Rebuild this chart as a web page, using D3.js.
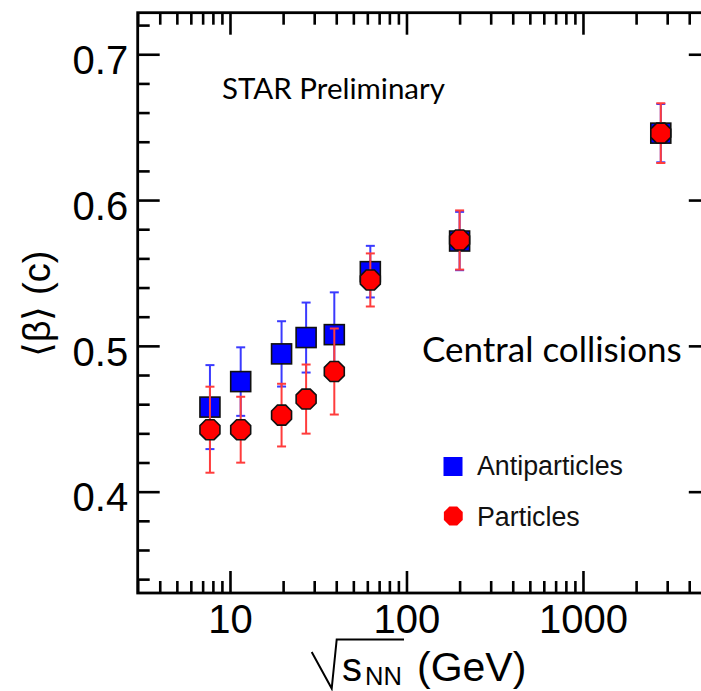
<!DOCTYPE html>
<html><head><meta charset="utf-8">
<script src="https://cdn.jsdelivr.net/npm/d3@7"></script>
<style>html,body{margin:0;padding:0;background:#fff;}svg{display:block;}</style>
</head><body>
<script>
// ---- data ----
const energies = [7.7, 11.5, 19.6, 27, 39, 62.4, 200, 2760];
const antiBeta = [0.458, 0.4755, 0.4945, 0.5057, 0.5077, 0.5509, 0.5719, 0.6459];
const antiErr  = [0.0288, 0.0235, 0.0224, 0.0240, 0.0290, 0.0177, 0.0200, 0.0200];
const partBeta = [0.4425, 0.4425, 0.4525, 0.4635, 0.4824, 0.5452, 0.5726, 0.6459];
const partErr  = [0.0295, 0.0226, 0.0215, 0.0237, 0.0295, 0.0182, 0.0203, 0.0205];
const xTickLabels = [10, 100, 1000];
const yTickLabels = [0.4, 0.5, 0.6, 0.7];
const seriesNames = ["Antiparticles", "Particles"];

const W = 701, H = 691;
const svg = d3.select("body").append("svg").attr("width", W).attr("height", H);

const x = d3.scaleLog().domain([3, 5300]).range([137.7, 710.8]);
const y = d3.scaleLinear().domain([0.3305, 0.7285]).range([593, 12.7]);
const [x0, x1] = x.range(), [y0, y1] = y.range();

const majX = 22, minX = 12;
const xMinor = x.ticks().filter(v => !xTickLabels.includes(v));
const yMinor = y.ticks(20).filter(v => !yTickLabels.some(t => Math.abs(t - v) < 1e-9));

function styleAxis(g) {
  g.select(".domain").remove();
  g.selectAll(".tick line").attr("stroke", "#000").attr("stroke-width", 2.6);
  g.selectAll(".tick text").attr("fill", "#000")
    .style("font-family", "'Liberation Sans', Arial, sans-serif").style("font-size", "40px");
}

// bottom
svg.append("g").attr("transform", `translate(0,${y0})`)
  .call(d3.axisBottom(x).tickValues(xTickLabels).tickFormat(d3.format("d")).tickSize(-majX).tickSizeOuter(0).tickPadding(12))
  .call(styleAxis);
svg.append("g").attr("transform", `translate(0,${y0})`)
  .call(d3.axisBottom(x).tickValues(xMinor).tickFormat("").tickSize(-minX).tickSizeOuter(0))
  .call(styleAxis);
// top
svg.append("g").attr("transform", `translate(0,${y1})`)
  .call(d3.axisTop(x).tickValues(xTickLabels).tickFormat("").tickSize(-majX).tickSizeOuter(0))
  .call(styleAxis);
svg.append("g").attr("transform", `translate(0,${y1})`)
  .call(d3.axisTop(x).tickValues(xMinor).tickFormat("").tickSize(-minX).tickSizeOuter(0))
  .call(styleAxis);
// left
const gl = svg.append("g").attr("transform", `translate(${x0},0)`)
  .call(d3.axisLeft(y).tickValues(yTickLabels).tickFormat(d3.format(".1f")).tickSize(-majX).tickSizeOuter(0).tickPadding(9.5))
  .call(styleAxis);
gl.selectAll(".tick text").attr("dy", "0.48em");
svg.append("g").attr("transform", `translate(${x0},0)`)
  .call(d3.axisLeft(y).tickValues(yMinor).tickFormat("").tickSize(-minX).tickSizeOuter(0))
  .call(styleAxis);
// right
svg.append("g").attr("transform", `translate(${x1},0)`)
  .call(d3.axisRight(y).tickValues(yTickLabels).tickFormat("").tickSize(-majX).tickSizeOuter(0))
  .call(styleAxis);

// frame
svg.append("rect").attr("x", x0).attr("y", y1).attr("width", x1 - x0).attr("height", y0 - y1)
  .attr("fill", "none").attr("stroke", "#000").attr("stroke-width", 2.8);

// markers
const octagon = (r) => {
  const pts = d3.range(8).map(i => {
    const a = Math.PI / 8 + i * Math.PI / 4;
    return [r * Math.cos(a), r * Math.sin(a)];
  });
  return "M" + pts.map(p => p.join(",")).join("L") + "Z";
};
const cap = 4.5;

function errorBars(vals, errs, color) {
  const g = svg.append("g").attr("stroke", color).attr("stroke-width", 2).attr("fill", "none");
  energies.forEach((e, i) => {
    const cx = x(e), yt = y(vals[i] + errs[i]), yb = y(vals[i] - errs[i]);
    g.append("line").attr("x1", cx).attr("x2", cx).attr("y1", yt).attr("y2", yb);
    g.append("line").attr("x1", cx - cap).attr("x2", cx + cap).attr("y1", yt).attr("y2", yt);
    g.append("line").attr("x1", cx - cap).attr("x2", cx + cap).attr("y1", yb).attr("y2", yb);
  });
}

errorBars(antiBeta, antiErr, "#3a3aff");
svg.append("g").selectAll("rect").data(energies).join("rect")
  .attr("x", (d) => x(d) - 10).attr("y", (d, i) => y(antiBeta[i]) - 10)
  .attr("width", 20).attr("height", 20)
  .attr("fill", "#0000ff").attr("stroke", "#111").attr("stroke-width", 1.6);

errorBars(partBeta, partErr, "#ff3c3c");
svg.append("g").selectAll("path").data(energies).join("path")
  .attr("d", octagon(10.8))
  .attr("transform", (d, i) => `translate(${x(d)},${y(partBeta[i])})`)
  .attr("fill", "#ff0000").attr("stroke", "#111").attr("stroke-width", 1.6);

// legend
const lf = "'Liberation Sans', Arial, sans-serif";
svg.append("rect").attr("x", 443.5).attr("y", 457).attr("width", 19).attr("height", 19).attr("fill", "#0000ff");
svg.append("path").attr("d", octagon(10.2)).attr("transform", "translate(453.3,516)").attr("fill", "#ff0000");
svg.append("text").attr("x", 477).attr("y", 475).text(seriesNames[0])
  .style("font-family", lf).style("font-size", "26.8px").attr("fill", "#111");
svg.append("text").attr("x", 477).attr("y", 526).text(seriesNames[1])
  .style("font-family", lf).style("font-size", "26.8px").attr("fill", "#111");

// annotations
svg.append("text").attr("x", 222).attr("y", 99).text("STAR Preliminary")
  .style("font-family", "Lato, 'Open Sans', sans-serif").style("font-size", "29.5px").attr("fill", "#000");
svg.append("text").attr("x", 422).attr("y", 362).text("Central collisions")
  .style("font-family", "Lato, 'Open Sans', sans-serif").style("font-size", "35px").attr("fill", "#000");

// y title
svg.append("text").attr("transform", "translate(50,304) rotate(-90)")
  .attr("text-anchor", "middle").text("⟨β⟩ (c)")
  .style("font-family", lf).style("font-size", "38px").attr("fill", "#000");

// x title with radical
svg.append("path").attr("d", "M311.7,652 L331.7,688.5 L336.7,639.5 L404,639.5")
  .attr("fill", "none").attr("stroke", "#000").attr("stroke-width", 2);
const xt = svg.append("text").style("font-family", lf).attr("fill", "#000");
xt.append("tspan").attr("x", 342).attr("y", 681).style("font-size", "40px").text("s");
xt.append("tspan").attr("x", 365).attr("y", 684.5).style("font-size", "25.5px").text("NN");
xt.append("tspan").attr("x", 417).attr("y", 681).style("font-size", "41px").text("(GeV)");
</script>
</body></html>
